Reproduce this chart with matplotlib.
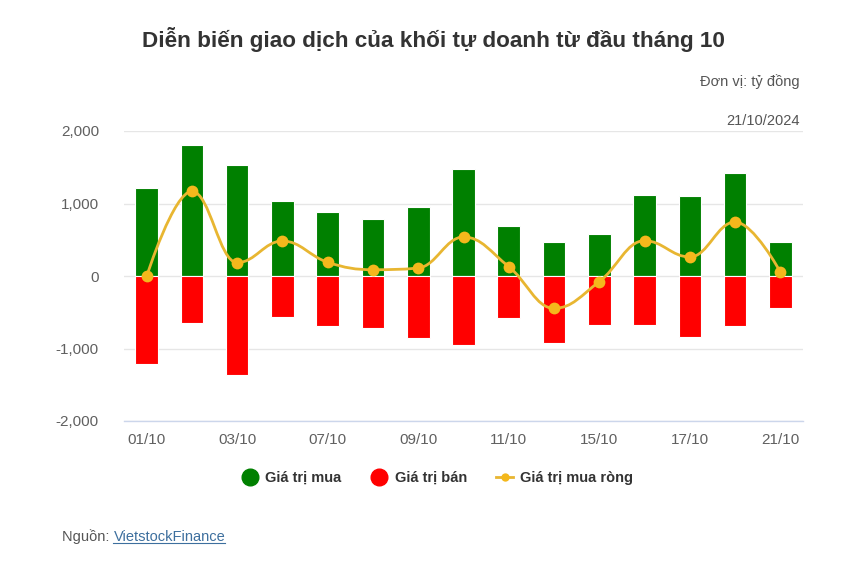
import numpy as np
import matplotlib
matplotlib.use("Agg")
import matplotlib.pyplot as plt
from matplotlib.path import Path
from matplotlib.patches import PathPatch
from matplotlib.lines import Line2D

plt.rcParams['font.family'] = ['Liberation Sans', 'DejaVu Sans']

dates = ["01/10", "02/10", "03/10", "04/10", "07/10", "08/10", "09/10", "10/10",
         "11/10", "14/10", "15/10", "16/10", "17/10", "18/10", "21/10"]
buy = [1210, 1811, 1536, 1034, 878, 791, 947, 1480, 685, 464, 584, 1117, 1099, 1416, 464]
sell = [-1220, -648, -1361, -566, -690, -722, -860, -947, -584, -929, -671, -671, -846, -690, -446]
net = [-5, 1168, 184, 483, 189, 87, 110, 538, 129, -446, -78, 487, 262, 745, 55]
yticks = [-2000, -1000, 0, 1000, 2000]
ytick_labels = ["-2,000", "-1,000", "0", "1,000", "2,000"]
xtick_idx = [0, 2, 4, 6, 8, 10, 12, 14]

GREEN = "#008000"
RED = "#ff0000"
GOLD_LINE = "#e8b631"
GOLD_MARK = "#f4b81c"

fig = plt.figure(figsize=(8.67, 5.70), dpi=100)
ax = fig.add_axes([124/867, 1 - 421/570, (803-124)/867, (421-131)/570])

x = np.arange(len(dates))
ax.bar(x, buy, width=0.5, color=GREEN, edgecolor="white", linewidth=0.8, zorder=2)
ax.bar(x, sell, width=0.5, color=RED, edgecolor="white", linewidth=0.8, zorder=2)

# Highcharts-like spline through net points
def spline_path(xs, ys, smoothing=1.5):
    n = len(xs)
    denom = smoothing + 1
    lc = [None]*n
    rc = [None]*n
    for i in range(n):
        if i == 0 or i == n-1:
            lc[i] = (xs[i], ys[i]); rc[i] = (xs[i], ys[i]); continue
        lx = (smoothing*xs[i] + xs[i-1]) / denom
        ly = (smoothing*ys[i] + ys[i-1]) / denom
        rx = (smoothing*xs[i] + xs[i+1]) / denom
        ry = (smoothing*ys[i] + ys[i+1]) / denom
        corr = ((ry - ly) * (rx - xs[i])) / (rx - lx) + ys[i] - ry
        ly += corr; ry += corr
        if ly > ys[i-1] and ly > ys[i]:
            ly = max(ys[i-1], ys[i]); ry = 2*ys[i] - ly
        elif ly < ys[i-1] and ly < ys[i]:
            ly = min(ys[i-1], ys[i]); ry = 2*ys[i] - ly
        if ry > ys[i+1] and ry > ys[i]:
            ry = max(ys[i+1], ys[i]); ly = 2*ys[i] - ry
        elif ry < ys[i+1] and ry < ys[i]:
            ry = min(ys[i+1], ys[i]); ly = 2*ys[i] - ry
        lc[i] = (lx, ly); rc[i] = (rx, ry)
    verts = [(xs[0], ys[0])]
    codes = [Path.MOVETO]
    for i in range(1, n):
        verts += [rc[i-1], lc[i], (xs[i], ys[i])]
        codes += [Path.CURVE4]*3
    return Path(verts, codes)

p = spline_path(list(x.astype(float)), [float(v) for v in net])
ax.add_patch(PathPatch(p, facecolor="none", edgecolor=GOLD_LINE, lw=2.0, zorder=3))
ax.plot(x, net, linestyle="none", marker="o", markersize=8.5, color=GOLD_MARK,
        markeredgewidth=0, zorder=4)

ax.set_xlim(-0.5, len(dates) - 0.5)
ax.set_ylim(-2000, 2000)
ax.set_yticks(yticks)
ax.set_yticklabels(ytick_labels)
ax.set_xticks(xtick_idx)
ax.set_xticklabels([dates[i] for i in xtick_idx])
ax.tick_params(axis="both", length=0, labelsize=11, colors="#606060")
ax.tick_params(axis="y", pad=18)
ax.tick_params(axis="x", pad=9)
ax.grid(axis="y", color="#e6e6e6", linewidth=1, zorder=0)
for s in ["top", "right", "left"]:
    ax.spines[s].set_visible(False)
ax.spines["bottom"].set_color("#ccd6eb")
ax.spines["bottom"].set_linewidth(1)

fig.text(0.5, 1 - 40/570, "Diễn biến giao dịch của khối tự doanh từ đầu tháng 10",
         ha="center", va="center", fontsize=16.2, fontweight="bold", color="#333333")
fig.text(800/867, 1 - 82/570, "Đơn vị: tỷ đồng", ha="right", va="center",
         fontsize=10.5, color="#555555")
fig.text(800/867, 1 - 121/570, "21/10/2024", ha="right", va="center",
         fontsize=10.5, color="#555555")

handles = [
    Line2D([], [], linestyle="none", marker="o", markersize=12, color=GREEN),
    Line2D([], [], linestyle="none", marker="o", markersize=12, color=RED),
    Line2D([], [], color=GOLD_LINE, lw=2, marker="o", markersize=6,
           markerfacecolor=GOLD_MARK, markeredgewidth=0),
]
leg = fig.legend(handles, ["Giá trị mua", "Giá trị bán", "Giá trị mua ròng"],
                 loc="center", bbox_to_anchor=(437/867, 1 - 478/570), ncol=3,
                 frameon=False, handlelength=1.2, handletextpad=0.45, columnspacing=2.0,
                 prop={"weight": "bold", "size": 10.5})
for t in leg.get_texts():
    t.set_color("#333333")

t1 = fig.text(62/867, 1 - 537/570, "Nguồn: ", ha="left", va="center",
              fontsize=10.5, color="#555555")
fig.canvas.draw()
r = fig.canvas.get_renderer()
bb = t1.get_window_extent(r)
t2 = fig.text(bb.x1/fig.bbox.width, 1 - 537/570, "VietstockFinance", ha="left",
              va="center", fontsize=10.5, color="#3d6f9e")
bb2 = t2.get_window_extent(r)
fig.add_artist(Line2D([bb2.x0/fig.bbox.width, bb2.x1/fig.bbox.width],
                      [(bb2.y0+1)/fig.bbox.height]*2, color="#3d6f9e", lw=0.8))

fig.savefig("out.png", dpi=100, facecolor="white")
